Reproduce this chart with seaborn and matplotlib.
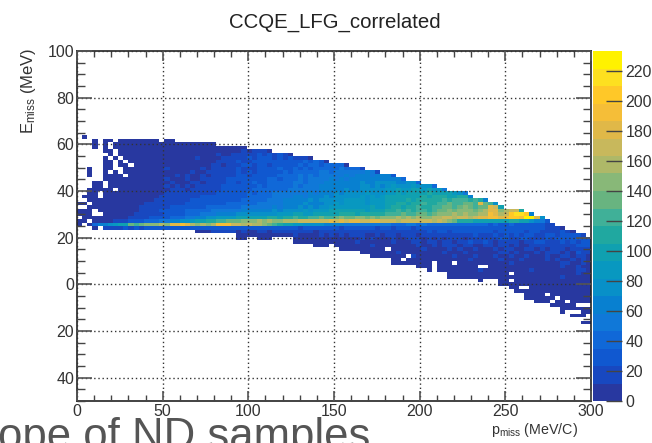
import numpy as np
import pandas as pd
import seaborn as sns
import matplotlib.pyplot as plt
from matplotlib.colors import ListedColormap

title = "CCQE_LFG_correlated"
x_ticks = [0, 50, 100, 150, 200, 250, 300]
y_ticks = [100, 80, 60, 40, 20, 0, -20, -40]
y_tick_labels = ["100", "80", "60", "40", "20", "0", "20", "40"]
z_ticks = [0, 20, 40, 60, 80, 100, 120, 140, 160, 180, 200, 220]

# bins of the histogram
n_bins = 100
x_bin = 3.0
y_bin = 1.5
y_low = -50
z_max = 233

# palette of the z axis, lowest level first
level_colors = ["#2838a0", "#1848c0", "#1058d0", "#1068d8", "#1078d8", "#0880d0", "#0890c8",
                "#0898c0", "#10a0b0", "#20a8a0", "#40b098", "#68b480", "#88b878", "#aeb868",
                "#c8b85c", "#e0b848", "#f5be38", "#ffc828", "#fde020", "#fff200"]
level_chars = "0123456789abcdefghij"

# colour level of each cell, top row first, blocks of 10 bins.
top_row = 75
level_rows = [
    ".0",
    "...0.00.00 000000.00",
    "...0.0.000 0000000000 0000000",
    "...0.0.000 0000000000 0000000000 000",
    ".....00.00 0000000000 0000000000 00101110",
    "......0.00 0000000000 0000000100 1111121212 10",
    ".....0.0.0 0000000000 0001000011 1112122212 121110",
    ".....00.0. 0000000000 0000000111 1211222222 222232320",
    ".....00.00 .000000000 0000001101 1122122122 2223233233 330",
    "..0..00..0 0000000100 0000101111 1211122223 2232323333 343331",
    "..0..0.0.0 0000000000 0010011111 1212122222 3233333443 444444541",
    "..0..0000. 0000000001 0100101111 1221222223 3334343444 4454555455 52",
    ".....00000 0000000100 0100111112 2222222332 3334344445 4545555555 5553",
    "...00.0000 0000000010 0011011112 2122322333 3344344455 5555565566 6655663",
    "...00.0000 0000000101 0101111122 2222232333 3343444555 5555566565 6766676663",
    "..00000.00 0000000011 1011111122 2222333333 3444444555 5565566666 7787788787 74",
    "..00.00000 0000000111 1111111222 2223233344 4444454555 6566667666 7787888898 888764",
    ".000.00000 0000001111 1111222222 2223333344 4455455565 6666676767 8888888989 9988995",
    "..00000000 0000011111 1122222222 2233333444 5555565666 6677776777 8888989999 9a9aaa9a95",
    "00.0000000 0001111111 1222222223 3333344444 5555655566 7677776777 8899899a99 aabaabbafb a6",
    "..00000000 0011111122 2222233333 3344444454 5556565667 7777777877 899899a99a abbabcbabb fe8",
    "000.000000 0011112222 2333334444 4455555565 6666767778 8888887888 99a9a9aa9a bbcbcccbcd ffcdee9",
    "000..00000 0111111222 2333444555 5666666667 7788778888 8999899999 aaabaabbab cccdcdccdd gfdehiih5",
    ".000000000 1111222233 3445566777 7888888998 99a99aabaa bcbbccbcbc ccdcdcdccd deedeedeff ggfghhgjjf 6",
    "00.0000111 2223334455 6678899aab bbcccdcdcc dddeeeeeef efeffeeffe eedeeeeeed edcb999888 8888998865 42",
    "0.03556788 babcccdcff gfdcdcdggg eededdcba9 8877666655 5544444444 4333443433 3333333333 2322322222 211",
    "...0.11112 1212222222 2222222222 2222222222 2221222222 2122222212 2122212222 2222222222 2222222222 21110",
    ".......... .......... ...0001111 1010011011 1111110111 1111111111 1111111121 2212222222 2122222122 1111210",
    ".......... .......... .......... .000000000 0010000101 0101110010 1101110111 1111111211 1212121221 122122221",
    ".......... .......... .......... .00..000.. ..00000000 0000010100 0100111010 1011101111 1122112211 1212222222",
    ".......... .......... .......... .......... ..00000000 0000100000 0100011011 0110112112 1011110112 2111212122",
    ".......... .......... .......... .......... ......000. 0000000100 0000001001 0111011001 1011010011 1111111222",
    ".......... .......... .......... .......... .......... .000000000 .000000100 0010100100 0101100110 1011101111",
    ".......... .......... .......... .......... .......... .....00000 0010000000 0100010000 0011010001 0111010211",
    ".......... .......... .......... .......... .......... .......000 0000.10000 0001000100 0100100100 0100110110",
    ".......... .......... .......... .......... .......... .......... .00.000000 0000001000 0010001000 0101001010",
    ".......... .......... .......... .......... .......... .......... .00000000. 000.000000 0000100000 0000110010",
    ".......... .......... .......... .......... .......... .......... ......000. 00000000.. 0000000000 0000100100",
    ".......... .......... .......... .......... .......... .......... ........0. 0000000010 0000000010 0000000110",
    ".......... .......... .......... .......... .......... .......... .......... ..00000000 0000.00000 0000000100",
    ".......... .......... .......... .......... .......... .......... .......... ..00000000 0000000000 0000100000",
    ".......... .......... .......... .......... .......... .......... .......... ........0. ..00.00000 0000000000",
    ".......... .......... .......... .......... .......... .......... .......... .......... ..00000000 0000000000",
    ".......... .......... .......... .......... .......... .......... .......... .......... ....00..00 0000000000",
    ".......... .......... .......... .......... .......... .......... .......... .......... .....00000 0000000000",
    ".......... .......... .......... .......... .......... .......... .......... .......... .......000 0.00000000",
    ".......... .......... .......... .......... .......... .......... .......... .......... .......000 000.000000",
    ".......... .......... .......... .......... .......... .......... .......... .......... .........0 00.00.0000",
    ".......... .......... .......... .......... .......... .......... .......... .......... .......... ..00000...",
    ".......... .......... .......... .......... .......... .......... .......... .......... .......... ....000000",
    ".......... .......... .......... .......... .......... .......... .......... .......... .......... ....0...00",
    ".......... .......... .......... .......... .......... .......... .......... .......... .......... ......000.",
    "",
    ".......... .......... .......... .......... .......... .......... .......... .......... .......... ........00",
]

plt.rcParams["font.family"] = ["Liberation Sans", "DejaVu Sans"]
plt.rcParams["mathtext.default"] = "regular"
text_color = "#333333"

# level -> bin content, centre of each colour step
step = z_max / len(level_colors)
grid = np.full((n_bins, n_bins), np.nan)
for i, row in enumerate(level_rows):
    for j, c in enumerate(row.replace(" ", "")):
        if c != ".":
            grid[top_row - i, j] = (level_chars.index(c) + 0.5) * step
counts = pd.DataFrame(grid)

fig = plt.figure(figsize=(6.52, 4.43), dpi=100)
ax = fig.add_axes([77 / 652, 42 / 443, 514 / 652, 350 / 443])
cax = fig.add_axes([592.5 / 652, 42 / 443, 29 / 652, 350 / 443])

sns.heatmap(counts, ax=ax, cbar_ax=cax, cmap=ListedColormap(level_colors), vmin=0, vmax=z_max,
            xticklabels=False, yticklabels=False)
ax.set_ylim(0, n_bins)


def to_x(v):
    return np.asarray(v) / x_bin


def to_y(v):
    return (np.asarray(v) - y_low) / y_bin


# ROOT style axes, ticks inside on all four sides
ax.set_xticks(to_x(x_ticks))
ax.set_xticklabels([str(v) for v in x_ticks])
ax.set_yticks(to_y(y_ticks))
ax.set_yticklabels(y_tick_labels)
ax.set_xticks(to_x(np.arange(0, 301, 10)), minor=True)
ax.set_yticks(to_y(np.arange(-50, 101, 5)), minor=True)
ax.tick_params(axis="x", which="major", direction="in", top=True, bottom=True, length=7, width=1.2,
               color="#555555", labelsize=11.5, labelcolor=text_color, pad=2)
ax.tick_params(axis="x", which="minor", direction="in", top=True, bottom=True, length=4, width=1,
               color="#444444")
ax.tick_params(axis="y", which="major", direction="in", left=True, right=True, length=11, width=1.2,
               color="#555555", labelsize=11.5, labelcolor=text_color, pad=2)
ax.tick_params(axis="y", which="minor", direction="in", left=True, right=True, length=6, width=1,
               color="#444444")
for s in ax.spines.values():
    s.set_visible(True)
    s.set_linewidth(1.2)
    s.set_color("#222222")

ax.set_axisbelow(False)
ax.grid(True, which="major", linestyle=(0, (1, 2)), linewidth=1, color="#333333")

cax.set_yticks(z_ticks)
cax.tick_params(axis="y", direction="in", right=True, left=False, length=11.5, width=1,
                color="#444444", labelsize=11.5, labelcolor=text_color, pad=3)

fig.text(335 / 652, 1 - 22 / 443, title, ha="center", va="center", fontsize=14.7, color="#222222")
fig.text(29 / 652, 1 - 48 / 443, r"$E_{miss}$ (MeV)", rotation=90, ha="center", va="top",
         fontsize=12, color=text_color)
fig.text(578 / 652, 1 - 430 / 443, r"$p_{miss}$ (MeV/C)", ha="right", va="center",
         fontsize=10.3, color=text_color)
# piece of the slide text below the chart, cut by the edge of the picture
fig.text(-2 / 652, -6 / 443, "ope of ND samples", ha="left", va="baseline", fontsize=31.5, color="#555555")

fig.savefig("out.png", dpi=100)
